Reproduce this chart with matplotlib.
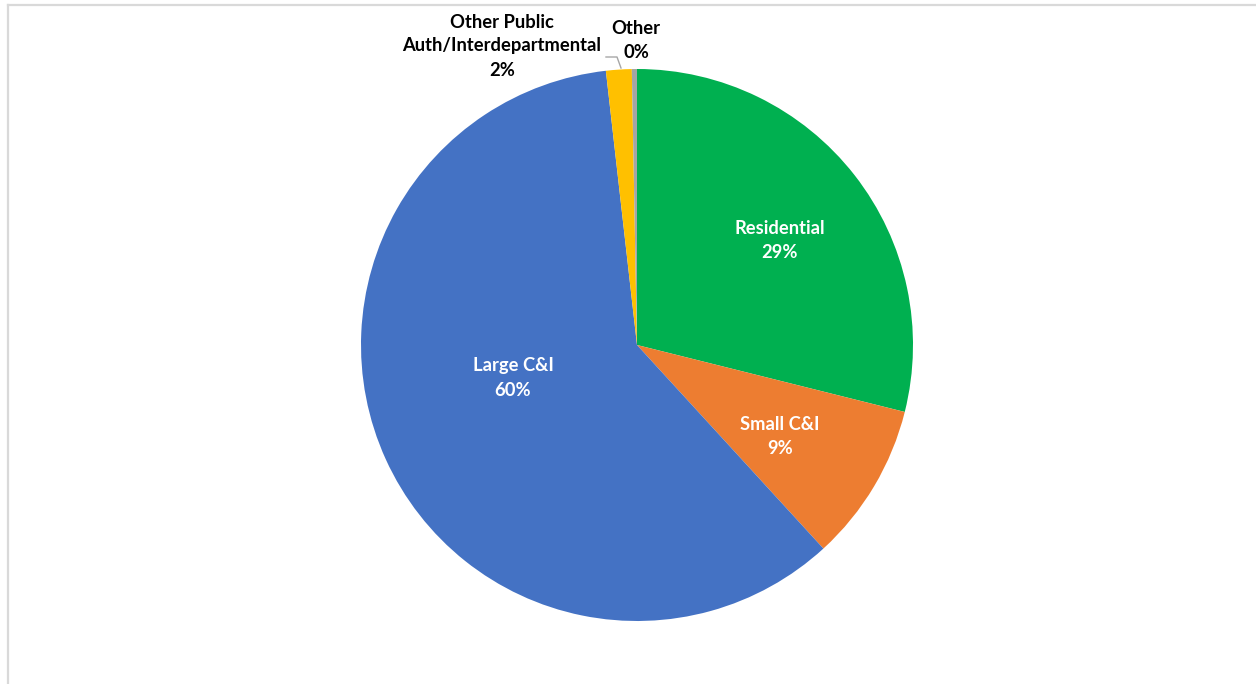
import matplotlib.pyplot as plt

categories = ['Residential', 'Small C&I', 'Large C&I',
              'Other Public\nAuth/Interdepartmental', 'Other']
shares = [28.9, 9.3, 60.0, 1.5, 0.3]
colors = ['#00b050', '#ed7d31', '#4472c4', '#ffc000', '#a5a5a5']

W, H = 1256, 684
plt.rcParams['font.family'] = ['Lato', 'DejaVu Sans']

fig = plt.figure(figsize=(W / 100, H / 100), dpi=100)
ax = fig.add_axes([0, 0, 1, 1])

def py(y):
    # screen-style y (from top) -> axes y
    return H - y

cx, cy, r = 637, 345, 276
ax.pie(shares, colors=colors, startangle=90, counterclock=False,
       center=(cx, py(cy)), radius=r, frame=True,
       wedgeprops=dict(linewidth=0))
ax.set_xlim(0, W)
ax.set_ylim(0, H)
ax.set_aspect('equal')
ax.axis('off')

# chart frame (top and left edges visible)
ax.plot([8, W], [py(5), py(5)], color='#d9d9d9', lw=1.6, clip_on=False)
ax.plot([8, 8], [py(5), py(H)], color='#d9d9d9', lw=1.6, clip_on=False)

label_pos = [(780, 241, 'white'), (780, 436, 'white'), (513, 378, 'white'),
             (502, 46, 'black'), (636, 40, 'black')]
for name, v, (x, y, c) in zip(categories, shares, label_pos):
    ax.text(x, py(y), f'{name}\n{round(v)}%', ha='center', va='center',
            color=c, fontsize=13.2, fontweight='bold', linespacing=1.5)

# leader line for the small slice label
ax.plot([606, 617, 621], [py(57), py(57), py(68)], color='#a6a6a6', lw=1)

fig.savefig('out.png', dpi=100, facecolor='white')
